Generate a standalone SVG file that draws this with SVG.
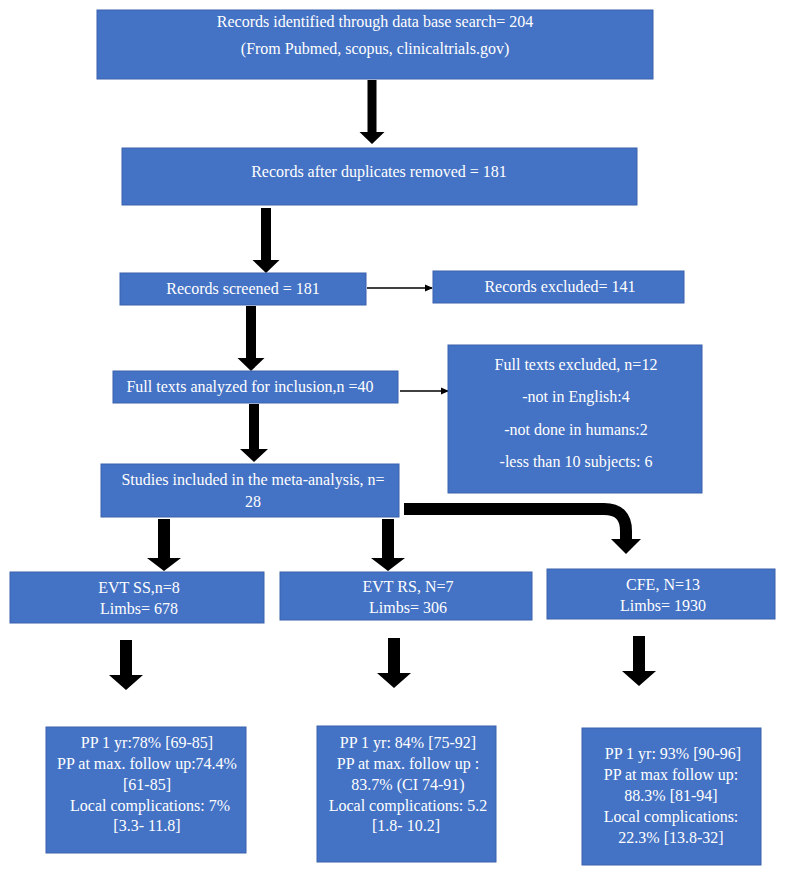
<svg xmlns="http://www.w3.org/2000/svg" width="788" height="876" viewBox="0 0 788 876">
<style>
.box{fill:#4472C4;stroke:#3A63AD;stroke-width:1}
.t{font-family:"Liberation Serif","Times New Roman",serif;font-size:16px;fill:#FFFFFF;text-anchor:middle}
.thick{fill:#000000}
.thin{stroke:#000000;stroke-width:1.5;fill:none}
</style>
<defs>
<marker id="ah" markerWidth="8" markerHeight="8" refX="7" refY="4" orient="auto" markerUnits="userSpaceOnUse">
<path d="M0,0.5 L8,4 L0,7.5 Z" fill="#000000"/>
</marker>
</defs>
<rect width="788" height="876" fill="#FFFFFF"/>

<g id="connectors">
<path class="thick" d="M367.5,80 h9 v52 h8 l-12.5,12 l-12.5,-12 h8 Z"/>
<path class="thick" d="M261,208 h10 v52 h8.5 l-13.5,13 l-13.5,-13 h8.5 Z"/>
<path class="thick" d="M246,306 h10 v52 h8.5 l-13.5,13 l-13.5,-13 h8.5 Z"/>
<path class="thick" d="M249,404 h10 v45 h9 l-14,13 l-14,-13 h9 Z"/>
<path class="thick" d="M158,519 h12 v39 h11 l-17,13 l-17,-13 h11 Z"/>
<path class="thick" d="M382,519 h12 v39 h11 l-17,13 l-17,-13 h11 Z"/>
<path d="M404,509 H604 Q626,509 626,531 V540" fill="none" stroke="#000000" stroke-width="12"/>
<path class="thick" d="M611,539 h30 l-15,15 Z"/>
<path class="thick" d="M120,640 h12 v35 h11 l-17,15 l-17,-15 h11 Z"/>
<path class="thick" d="M388,638 h12 v35 h11 l-17,15 l-17,-15 h11 Z"/>
<path class="thick" d="M633,636 h12 v35 h11 l-17,15 l-17,-15 h11 Z"/>
<line class="thin" x1="367" y1="288" x2="432" y2="288" marker-end="url(#ah)"/>
<line class="thin" x1="400" y1="391" x2="448" y2="391" marker-end="url(#ah)"/>
</g>

<g id="identified">
<rect class="box" x="97" y="10" width="556" height="69"/>
<text class="t" x="375" y="27">Records identified through data base search= 204</text>
<text class="t" x="375" y="54">(From Pubmed, scopus, clinicaltrials.gov)</text>
</g>

<g id="duplicates">
<rect class="box" x="122" y="148" width="515" height="57"/>
<text class="t" x="379" y="177">Records after duplicates removed = 181</text>
</g>

<g id="screened">
<rect class="box" x="120" y="273" width="246" height="32"/>
<text class="t" x="243" y="294">Records screened = 181</text>
</g>

<g id="excluded">
<rect class="box" x="433" y="271" width="251" height="32"/>
<text class="t" x="560" y="292">Records excluded= 141</text>
</g>

<g id="fulltexts">
<rect class="box" x="113" y="371" width="285" height="32"/>
<text class="t" x="250" y="392">Full texts analyzed for inclusion,n =40</text>
</g>

<g id="fulltexts-excluded">
<rect class="box" x="448" y="345" width="254" height="148"/>
<text class="t" x="576" y="370">Full texts excluded, n=12</text>
<text class="t" x="576" y="402">-not in English:4</text>
<text class="t" x="576" y="435">-not done in humans:2</text>
<text class="t" x="576" y="467">-less than 10 subjects: 6</text>
</g>

<g id="included">
<rect class="box" x="101" y="464" width="298" height="53"/>
<text class="t" x="253" y="485">Studies included in the meta-analysis, n=</text>
<text class="t" x="253" y="507">28</text>
</g>

<g id="evt-ss">
<rect class="box" x="10" y="572" width="254" height="51"/>
<text class="t" x="139" y="593">EVT SS,n=8</text>
<text class="t" x="139" y="614">Limbs= 678</text>
</g>

<g id="evt-rs">
<rect class="box" x="280" y="572" width="252" height="48"/>
<text class="t" x="408" y="592">EVT RS, N=7</text>
<text class="t" x="408" y="613">Limbs= 306</text>
</g>

<g id="cfe">
<rect class="box" x="547" y="569" width="228" height="50"/>
<text class="t" x="663" y="590">CFE, N=13</text>
<text class="t" x="663" y="611">Limbs= 1930</text>
</g>

<g id="result-ss">
<rect class="box" x="46" y="727" width="200" height="126"/>
<text class="t" x="147" y="748">PP 1 yr:78% [69-85]</text>
<text class="t" x="147" y="769">PP at max. follow up:74.4%</text>
<text class="t" x="147" y="790">[61-85]</text>
<text class="t" x="150" y="811">Local complications: 7%</text>
<text class="t" x="147" y="831">[3.3- 11.8]</text>
</g>

<g id="result-rs">
<rect class="box" x="317" y="726" width="179" height="136"/>
<text class="t" x="408" y="748">PP 1 yr: 84% [75-92]</text>
<text class="t" x="408" y="769">PP at max. follow up :</text>
<text class="t" x="408" y="790">83.7% (CI 74-91)</text>
<text class="t" x="408" y="811">Local complications: 5.2</text>
<text class="t" x="406" y="831">[1.8- 10.2]</text>
</g>

<g id="result-cfe">
<rect class="box" x="582" y="728" width="179" height="137"/>
<text class="t" x="673" y="759">PP 1 yr: 93% [90-96]</text>
<text class="t" x="671" y="780">PP at max follow up:</text>
<text class="t" x="671" y="801">88.3% [81-94]</text>
<text class="t" x="671" y="822">Local complications:</text>
<text class="t" x="671" y="843">22.3% [13.8-32]</text>
</g>
</svg>
